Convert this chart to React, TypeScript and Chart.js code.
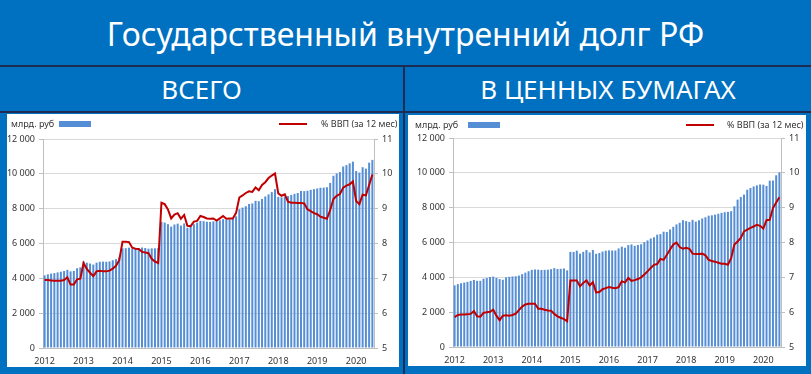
import React, { useEffect, useRef } from 'react';
import { Chart, registerables } from 'chart.js';

Chart.register(...registerables);

// ---- tick labels / categories ----
const years = ['2012', '2013', '2014', '2015', '2016', '2017', '2018', '2019', '2020'];
const monthsShown = [12, 12, 12, 12, 12, 12, 12, 12, 6];
const categories: string[] = [];
years.forEach((y, yi) => {
  for (let m = 1; m <= monthsShown[yi]; m++) categories.push(`${y}-${String(m).padStart(2, '0')}`);
});

// ---- ВСЕГО: debt, bn rub ----
const totalDebt = [
  4170, 4230, 4270, 4300, 4340, 4380, 4420, 4490, 4400, 4430, 4580, 4630,
  4970, 4900, 4850, 4790, 4900, 4950, 4960, 4950, 4970, 5040, 5100, 5200,
  5720, 5730, 5760, 5700, 5680, 5720, 5770, 5740, 5700, 5720, 5720, 5740,
  7240, 7200, 7110, 6970, 7090, 7140, 7030, 7150, 6900, 6990, 7110, 7200,
  7300, 7280, 7250, 7240, 7270, 7280, 7330, 7400, 7370, 7380, 7420, 7560,
  7970, 8060, 8140, 8270, 8300, 8450, 8430, 8560, 8700, 8820, 8950, 9120,
  8680, 8650, 8690, 8720, 8790, 8850, 8900, 9020, 9010, 9030, 9080, 9120,
  9160, 9200, 9210, 9230, 9480, 9890, 10020, 10100, 10420, 10500, 10600, 10700,
  10160, 10070, 10380, 10300, 10640, 10800,
];
// ---- ВСЕГО: % of GDP ----
const totalGdpShare = [
  6.95, 6.95, 6.94, 6.93, 6.93, 6.93, 6.95, 7.03, 6.82, 6.82, 6.97, 6.99,
  7.44, 7.27, 7.16, 7.06, 7.2, 7.22, 7.2, 7.2, 7.22, 7.28, 7.36, 7.52,
  8.05, 8.05, 8.04, 7.88, 7.85, 7.84, 7.76, 7.74, 7.72, 7.56, 7.48, 7.44,
  9.17, 9.13, 8.98, 8.72, 8.83, 8.87, 8.71, 8.82, 8.51, 8.5, 8.63, 8.65,
  8.79, 8.76, 8.72, 8.71, 8.72, 8.66, 8.72, 8.79, 8.71, 8.72, 8.72, 8.88,
  9.32, 9.38, 9.45, 9.5, 9.48, 9.61, 9.53, 9.68, 9.76, 9.88, 9.95, 10.01,
  9.44, 9.37, 9.41, 9.2, 9.17, 9.17, 9.16, 9.16, 9.15, 8.98, 8.93, 8.87,
  8.84, 8.77, 8.74, 8.71, 8.96, 9.28, 9.37, 9.42, 9.6, 9.66, 9.7, 9.78,
  9.22, 9.13, 9.4, 9.38, 9.68, 9.98,
];

// ---- В ЦЕННЫХ БУМАГАХ: debt, bn rub ----
const securitiesDebt = [
  3540, 3610, 3660, 3700, 3740, 3790, 3850, 3800, 3800, 3920, 3960, 4020,
  4040, 3970, 3900, 3860, 4000, 4030, 4050, 4060, 4100, 4180, 4270, 4350,
  4430, 4450, 4440, 4420, 4430, 4440, 4470, 4530, 4480, 4490, 4510, 4400,
  5460, 5460, 5530, 5360, 5460, 5570, 5430, 5570, 5350, 5400, 5480, 5530,
  5550, 5540, 5540, 5660, 5760, 5700, 5850, 5890, 5810, 5860, 5900, 6020,
  6120, 6230, 6300, 6450, 6480, 6620, 6600, 6750, 6900, 7040, 7130, 7280,
  7230, 7180, 7300, 7200, 7280, 7380, 7450, 7540, 7560, 7600, 7650, 7700,
  7740, 7760, 7800, 8080, 8460, 8610, 8750, 9030, 9130, 9220, 9280, 9330,
  9320, 9250, 9550, 9560, 9860, 10030,
];
// ---- В ЦЕННЫХ БУМАГАХ: % of GDP ----
const securitiesGdpShare = [
  5.86, 5.92, 5.93, 5.93, 5.94, 5.95, 6.03, 5.88, 5.87, 5.98, 6.0, 6.01,
  6.07, 5.9, 5.77, 5.9, 5.91, 5.9, 5.92, 5.96, 6.06, 6.16, 6.22, 6.24,
  6.24, 6.24, 6.1, 6.1, 6.07, 6.05, 6.04, 5.95, 5.88, 5.84, 5.8, 5.74,
  6.91, 6.91, 6.91, 6.74, 6.84, 6.91, 6.77, 6.86, 6.57, 6.58, 6.66, 6.69,
  6.72, 6.7, 6.69, 6.72, 6.89, 6.85, 6.98, 6.9, 6.92, 6.95, 7.0, 7.08,
  7.17, 7.27, 7.36, 7.38, 7.53, 7.5, 7.65, 7.8, 7.94, 8.0, 7.87, 7.82,
  7.85, 7.82, 7.68, 7.67, 7.67, 7.68, 7.63, 7.5, 7.47, 7.45, 7.42, 7.39,
  7.39, 7.36, 7.55, 7.94, 8.03, 8.13, 8.32, 8.37, 8.42, 8.46, 8.51, 8.48,
  8.4, 8.64, 8.65, 8.99, 9.15, 9.3,
];

// ---- texts ----
const mainTitle = 'Государственный внутренний долг РФ';
const panelTitles = ['ВСЕГО', 'В ЦЕННЫХ БУМАГАХ'];
const barLegend = 'млрд. руб';
const lineLegend = '% ВВП (за 12 мес)';

const BLUE = '#0070C0';
const LINE_DARK = '#1d2c52';
const BAR = '#558ED5';
const RED = '#C00000';
const TXT = '#333333';
const FONT = "'Noto Sans', 'DejaVu Sans', sans-serif";

const fmtThousands = (v: number) => {
  if (v < 1000) return String(v);
  return `${Math.floor(v / 1000)} ${String(v % 1000).padStart(3, '0')}`;
};

type PanelProps = {
  left: number; top: number; width: number; height: number;
  yAxisWidth: number; padTop: number;
  bars: number[]; line: number[];
  legendText1X: number; legendBox1X: number; legendLine2X: number; legendText2X: number;
};

function Panel(p: PanelProps) {
  const ref = useRef<HTMLCanvasElement | null>(null);
  useEffect(() => {
    if (!ref.current) return;
    const tickFont = { family: FONT, size: 9 };
    const chart = new Chart(ref.current, {
      type: 'bar',
      data: {
        labels: categories,
        datasets: [
          {
            type: 'line',
            data: p.line,
            yAxisID: 'y1',
            borderColor: RED,
            borderWidth: 2,
            pointRadius: 0,
            tension: 0,
            order: 0,
          } as any,
          {
            type: 'bar',
            data: p.bars,
            yAxisID: 'y',
            backgroundColor: BAR,
            barPercentage: 0.62,
            categoryPercentage: 1,
            order: 1,
          } as any,
        ],
      },
      options: {
        animation: false,
        responsive: false,
        maintainAspectRatio: false,
        layout: { padding: { top: p.padTop, left: 0, right: 0, bottom: 0 } },
        plugins: { legend: { display: false }, tooltip: { enabled: false }, title: { display: false } },
        scales: {
          x: {
            offset: true,
            grid: { display: false, drawTicks: false },
            border: { display: true, color: '#bfbfbf' },
            ticks: {
              autoSkip: false,
              maxRotation: 0,
              minRotation: 0,
              padding: 8,
              color: TXT,
              font: tickFont,
              callback: (_v: any, i: number) => (i % 12 === 0 ? years[i / 12] : ''),
            },
            afterFit: (s: any) => { s.height = 19; },
          } as any,
          y: {
            position: 'left',
            min: 0,
            max: 12000,
            ticks: { stepSize: 2000, padding: 4, color: TXT, font: tickFont, callback: (v: any) => fmtThousands(Number(v)) },
            grid: { color: '#d9d9d9', tickColor: '#bfbfbf', tickLength: 4 },
            border: { display: true, color: '#bfbfbf', width: 1 },
            afterFit: (s: any) => { s.width = p.yAxisWidth; },
          } as any,
          y1: {
            position: 'right',
            min: 5,
            max: 11,
            ticks: { stepSize: 1, padding: 4, color: TXT, font: tickFont },
            grid: { drawOnChartArea: false, tickColor: '#bfbfbf', tickLength: 4 },
            border: { display: true, color: '#bfbfbf', width: 1 },
            afterFit: (s: any) => { s.width = 25; },
          } as any,
        },
      },
    });
    return () => chart.destroy();
  }, []);

  const legendY = 10; // relative to panel top
  const txt: React.CSSProperties = {
    position: 'absolute', top: legendY - 7, fontFamily: FONT, fontSize: 9, color: TXT,
    lineHeight: '14px', whiteSpace: 'nowrap',
  };
  return (
    <div style={{ position: 'absolute', left: p.left, top: p.top, width: p.width, height: p.height, background: '#fff' }}>
      <canvas ref={ref} width={p.width} height={p.height} style={{ position: 'absolute', left: 0, top: 0, width: p.width, height: p.height }} />
      <div style={{ ...txt, left: p.legendText1X }}>{barLegend}</div>
      <div style={{ position: 'absolute', left: p.legendBox1X, top: legendY - 3, width: 32, height: 6, background: BAR }} />
      <div style={{ position: 'absolute', left: p.legendLine2X, top: legendY - 1, width: 28, height: 2, background: RED }} />
      <div style={{ ...txt, left: p.legendText2X }}>{lineLegend}</div>
    </div>
  );
}

export default function App() {
  return (
    <div style={{ position: 'fixed', left: 0, top: 0, width: 811, height: 374, background: BLUE, overflow: 'hidden' }}>
      <div style={{
        position: 'absolute', left: 0, top: 0, width: 811, height: 66, display: 'flex', alignItems: 'center',
        justifyContent: 'center', color: '#fff', fontFamily: FONT, fontSize: 32,
      }}>{mainTitle}</div>
      <div style={{ position: 'absolute', left: 0, top: 65, width: 811, height: 2, background: LINE_DARK }} />
      <div style={{ position: 'absolute', left: 0, top: 111, width: 811, height: 2, background: LINE_DARK }} />
      <div style={{ position: 'absolute', left: 403, top: 65, width: 2, height: 309, background: LINE_DARK }} />
      <div style={{
        position: 'absolute', left: 0, top: 67, width: 403, height: 44, display: 'flex', alignItems: 'center',
        justifyContent: 'center', color: '#fff', fontFamily: FONT, fontSize: 26,
      }}>{panelTitles[0]}</div>
      <div style={{
        position: 'absolute', left: 405, top: 67, width: 406, height: 44, display: 'flex', alignItems: 'center',
        justifyContent: 'center', color: '#fff', fontFamily: FONT, fontSize: 26,
      }}>{panelTitles[1]}</div>
      <Panel left={7} top={114} width={392} height={253} yAxisWidth={36} padTop={25}
        bars={totalDebt} line={totalGdpShare}
        legendText1X={4} legendBox1X={52} legendLine2X={272} legendText2X={314} />
      <Panel left={408} top={115} width={398} height={251} yAxisWidth={45} padTop={23}
        bars={securitiesDebt} line={securitiesGdpShare}
        legendText1X={7} legendBox1X={60} legendLine2X={278} legendText2X={319} />
    </div>
  );
}
